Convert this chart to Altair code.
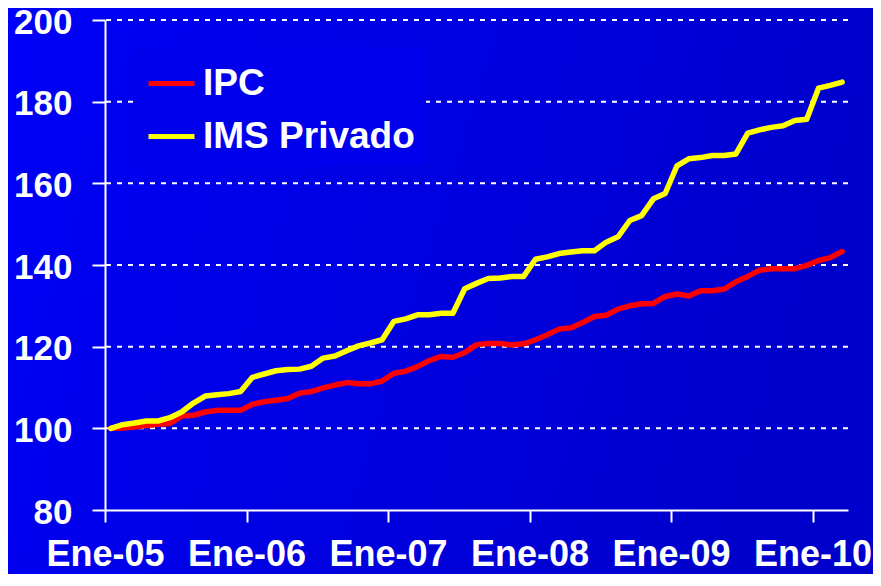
import altair as alt
import pandas as pd

# Monthly index values, Jan 2005 .. Mar 2010 (63 months)
ipc = [100, 100.1, 100.3, 100.7, 101, 101.2, 103, 103.2, 104, 104.4, 104.4, 104.4,
       105.9, 106.5, 106.9, 107.3, 108.6, 109, 109.9, 110.6, 111.2, 110.9, 110.9, 111.6,
       113.5, 114, 115.1, 116.6, 117.6, 117.4, 118.5, 120.5, 120.8, 120.8, 120.4, 120.7,
       121.7, 122.9, 124.3, 124.6, 125.9, 127.4, 127.7, 129.2, 130, 130.5, 130.6, 132.3,
       132.9, 132.4, 133.7, 133.7, 134.1, 135.9, 137.2, 138.7, 139.1, 139.1, 139.1, 139.9,
       141.1, 141.8, 143.3]
ims = [100, 100.9, 101.3, 101.8, 101.8, 102.6, 104, 106.2, 107.9, 108.2, 108.5, 109,
       112.5, 113.3, 114.1, 114.4, 114.5, 115.2, 117.2, 117.7, 119, 120.2, 120.9, 121.7,
       126.2, 126.8, 127.8, 127.8, 128.2, 128.2, 134.2, 135.5, 136.7, 136.8, 137.2, 137.2,
       141.4, 142, 142.8, 143.2, 143.5, 143.5, 145.6, 146.9, 150.9, 152.1, 156.2, 157.5,
       164.3, 166, 166.3, 166.8, 166.8, 167.2, 172.3, 173.1, 173.7, 174.1, 175.4, 175.7,
       183.3, 184, 184.8]
series_names = ["IPC", "IMS Privado"]
series_colors = ["#FF0000", "#FFFF00"]
tick_labels = ["Ene-05", "Ene-06", "Ene-07", "Ene-08", "Ene-09", "Ene-10"]
y_ticks = [80, 100, 120, 140, 160, 180, 200]
grid_vals = [100, 120, 140, 160, 180, 200]

n = len(ipc)
df = pd.DataFrame({"i": list(range(n)), "ipc": ipc, "ims": ims})
tick_vals = [12 * k - 0.5 for k in range(len(tick_labels))]
label_js = "[" + ",".join("'" + t + "'" for t in tick_labels) + "]"

W, H = 743, 490
PAD = {"left": 97, "top": 12, "right": 25, "bottom": 64}
FONT = "Liberation Sans"

bg = alt.Chart(pd.DataFrame({"a": [0]})).mark_rect(
    clip=False,
    fill=alt.LinearGradient(
        gradient="linear",
        stops=[alt.GradientStop(color="#0000F8", offset=0),
               alt.GradientStop(color="#0000CC", offset=1)],
        x1=0, x2=1, y1=0, y2=0.2,
    ),
).encode(
    x=alt.value(-PAD["left"]), x2=alt.value(W + PAD["right"]),
    y=alt.value(-PAD["top"]), y2=alt.value(H + PAD["bottom"]),
)

xscale = alt.Scale(domain=[-0.5, n - 0.5], nice=False, zero=False)
xenc = alt.X("i:Q", scale=xscale,
             axis=alt.Axis(values=tick_vals, labelExpr=label_js + "[round((datum.value+0.5)/12)]",
                           grid=False, title=None, labelFontSize=36, labelPadding=15,
                           tickSize=12, labelFlush=False, labelOverlap=False, zindex=1))
yscale = alt.Scale(domain=[80, 200], nice=False, zero=False)
yaxis = alt.Axis(values=y_ticks, grid=False, title=None, labelFontSize=35, labelPadding=20,
                 labelOffset=2, tickSize=13, zindex=1)

grid = alt.Chart(pd.DataFrame({"g": grid_vals})).mark_rule(
    color="white", strokeWidth=2, strokeDash=[5, 6]
).encode(y=alt.Y("g:Q", scale=yscale, axis=yaxis))

cscale = alt.Scale(domain=series_names, range=series_colors)
legend = alt.Legend(orient="none", legendX=30, legendY=27, fillColor="#0000EC", padding=11,
                    symbolType="stroke", symbolSize=2116, symbolStrokeWidth=5,
                    labelFont=FONT, labelFontSize=37, labelFontWeight="bold", labelColor="white",
                    labelOffset=6, rowPadding=9, labelLimit=500, zindex=2)

def series_line(col, name):
    return alt.Chart(df).transform_calculate(s="'" + name + "'").mark_line(
        strokeWidth=5.5, strokeCap="round", strokeJoin="round"
    ).encode(
        x=xenc, y=alt.Y(col + ":Q", scale=yscale, axis=yaxis),
        color=alt.Color("s:N", scale=cscale, legend=legend, title=None),
    )

chart = alt.layer(bg, grid, series_line("ipc", "IPC"), series_line("ims", "IMS Privado")).properties(
    width=W, height=H,
    autosize=alt.AutoSizeParams(type="none"),
    padding=PAD,
    background="#0000E4",
).configure_view(strokeWidth=0).configure_axis(
    labelFont=FONT, labelFontWeight="bold", labelColor="white",
    domainColor="white", domainWidth=2, tickColor="white", tickWidth=2,
)

chart.save("out.html", embed_options={"renderer": "svg", "actions": False})
